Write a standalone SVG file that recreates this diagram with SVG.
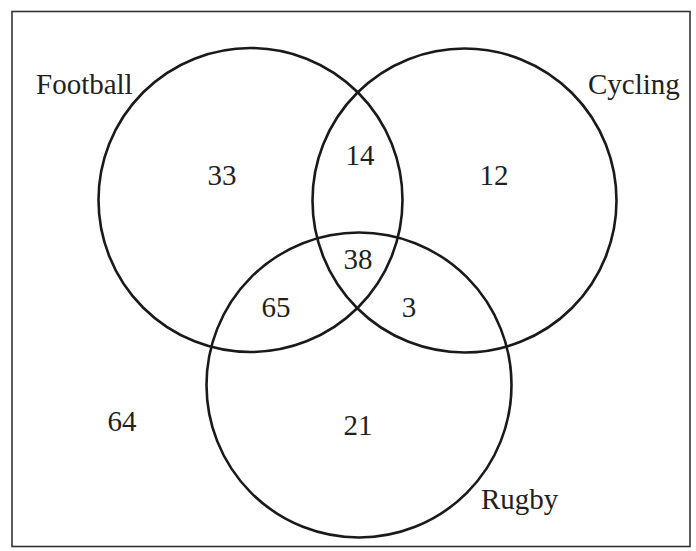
<svg xmlns="http://www.w3.org/2000/svg" width="696" height="551" viewBox="0 0 696 551">
<style>
.c{fill:none;stroke:#1a1a1a;stroke-width:2.6}
text{font-family:"Liberation Serif","Times New Roman",serif;font-size:29px;fill:#231f20}
.m{text-anchor:middle}
</style>
<rect x="0" y="0" width="696" height="551" fill="#fff"/>
<rect x="12" y="11.5" width="678" height="535" fill="none" stroke="#333" stroke-width="1.6"/>
<g id="football"><circle class="c" cx="250.5" cy="200" r="152"/><text x="36" y="94">Football</text></g>
<g id="cycling"><circle class="c" cx="464.5" cy="200.5" r="152"/><text x="588" y="94">Cycling</text></g>
<g id="rugby"><circle class="c" cx="359" cy="385" r="152.5"/><text x="481" y="509">Rugby</text></g>
<g id="values">
<text class="m" x="222" y="185">33</text>
<text class="m" x="360" y="165">14</text>
<text class="m" x="494" y="185">12</text>
<text class="m" x="358" y="269">38</text>
<text class="m" x="276" y="317">65</text>
<text class="m" x="409" y="317">3</text>
<text class="m" x="358" y="435">21</text>
<text class="m" x="122" y="431">64</text>
</g>
</svg>
